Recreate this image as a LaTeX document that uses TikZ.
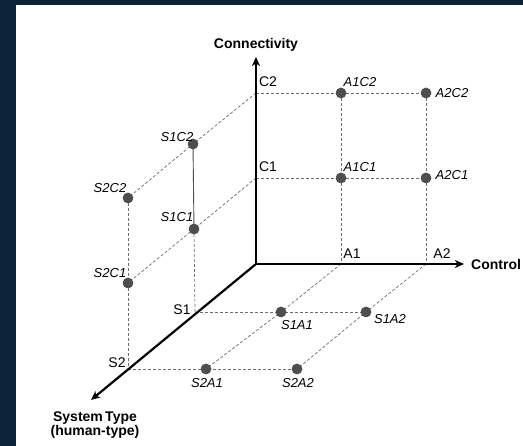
\documentclass[tikz,border=0pt]{standalone}
\usepackage{fontspec}
\setmainfont{Liberation Sans}
\usetikzlibrary{arrows.meta}
\definecolor{navy}{HTML}{0B2239}
\definecolor{gridgray}{HTML}{6E6E6E}
\definecolor{dotgray}{HTML}{4E4E4E}
\begin{document}
\begin{tikzpicture}[x=1pt,y=-1pt,
  axis/.style={line width=2.2pt,-{Stealth[length=9pt,width=8pt,inset=2.5pt]}},
  gridline/.style={gridgray,line width=0.7pt,dash pattern=on 3pt off 2pt},
  dot/.style={circle,fill=dotgray,minimum size=10.5pt,inner sep=0pt},
  ticklbl/.style={font=\fontsize{14}{16}\selectfont,inner sep=0pt},
  ptlbl/.style={font=\fontsize{13}{15}\selectfont\itshape,inner sep=0pt},
  axtitle/.style={font=\fontsize{14}{14.5}\selectfont\bfseries,inner sep=0pt,align=center}]
\useasboundingbox (0,0) rectangle (523,446);
\fill[white] (0,0) rectangle (523,446);
% frame strips
\fill[navy] (0,0) rectangle (16,446);
\fill[navy] (0,0) rectangle (523,5);

% origin, ticks and axis ends
\coordinate (O) at (256,264);
\coordinate (C1) at (256,178);
\coordinate (C2) at (256,93);
\coordinate (A1) at (341,264);
\coordinate (A2) at (426,264);
\coordinate (S1) at (195,312);
\coordinate (S2) at (128,369);
\coordinate (ctip) at (256,57);
\coordinate (atip) at (464,264);
\coordinate (stip) at (91,400);

% grid points
\node[dot] (A1C2) at (341,93) {};
\node[dot] (A2C2) at (426,93) {};
\node[dot] (A1C1) at (341,178) {};
\node[dot] (A2C1) at (426,178) {};
\node[dot] (S1C2) at (193,144) {};
\node[dot] (S2C2) at (128,198) {};
\node[dot] (S1C1) at (194,229) {};
\node[dot] (S2C1) at (128,283) {};
\node[dot] (S1A1) at (281,312) {};
\node[dot] (S1A2) at (366,312) {};
\node[dot] (S2A1) at (206,369) {};
\node[dot] (S2A2) at (297,369) {};

% dashed grid: control-connectivity plane
\begin{scope}[on background layer/.try]
\draw[gridline] (C2) -- (A1C2.center) -- (A2C2.center);
\draw[gridline] (C1) -- (A1C1.center) -- (A2C1.center);
\draw[gridline] (A1C2.center) -- (A1C1.center) -- (A1);
\draw[gridline] (A2C2.center) -- (A2C1.center) -- (A2);
% system-connectivity plane
\draw[gridline] (C2) -- (S1C2.center) -- (S2C2.center);
\draw[gridline] (C1) -- (S1C1.center) -- (S2C1.center);
\draw[gridline] (S2C2.center) -- (S2C1.center) -- (S2);
\draw[gridline] (S1C1.center) -- (S1);
\draw[dotgray,line width=0.9pt] (S1C2.center) -- (S1C1.center);
% system-control plane
\draw[gridline] (S1) -- (S1A1.center) -- (S1A2.center);
\draw[gridline] (S2) -- (S2A1.center) -- (S2A2.center);
\draw[gridline] (A1) -- (S1A1.center) -- (S2A1.center);
\draw[gridline] (A2) -- (S1A2.center) -- (S2A2.center);
\end{scope}

% redraw the dots over the grid
\foreach \p in {A1C2,A2C2,A1C1,A2C1,S1C2,S2C2,S1C1,S2C1,S1A1,S1A2,S2A1,S2A2}
  \fill[dotgray] (\p.center) circle (5.25pt);

% axes
\draw[axis] (O) -- (ctip);
\draw[axis] (O) -- (atip);
\draw[axis] (O) -- (stip);

% axis titles
\node[axtitle] (tconn) at (256,45) {Connectivity};
\node[axtitle,anchor=west] (tctrl) at (471,264) {Control};
\node[axtitle] (tsys) at (95,425) {System\,Type\\(human-type)};

% tick labels
\node[ticklbl] at (268,82) {C2};
\node[ticklbl] at (268,167) {C1};
\node[ticklbl] at (352,254) {A1};
\node[ticklbl] at (442,254) {A2};
\node[ticklbl] at (182,310) {S1};
\node[ticklbl] at (117,363) {S2};

% point labels
\node[ptlbl] at (360,82) {A1C2};
\node[ptlbl] at (452,93) {A2C2};
\node[ptlbl] at (360,167) {A1C1};
\node[ptlbl] at (452,175) {A2C1};
\node[ptlbl] at (177,137) {S1C2};
\node[ptlbl] at (110,188) {S2C2};
\node[ptlbl] at (177,217) {S1C1};
\node[ptlbl] at (110,273) {S2C1};
\node[ptlbl] at (297,325) {S1A1};
\node[ptlbl] at (390,319) {S1A2};
\node[ptlbl] at (207,383) {S2A1};
\node[ptlbl] at (298,383) {S2A2};
\end{tikzpicture}
\end{document}
